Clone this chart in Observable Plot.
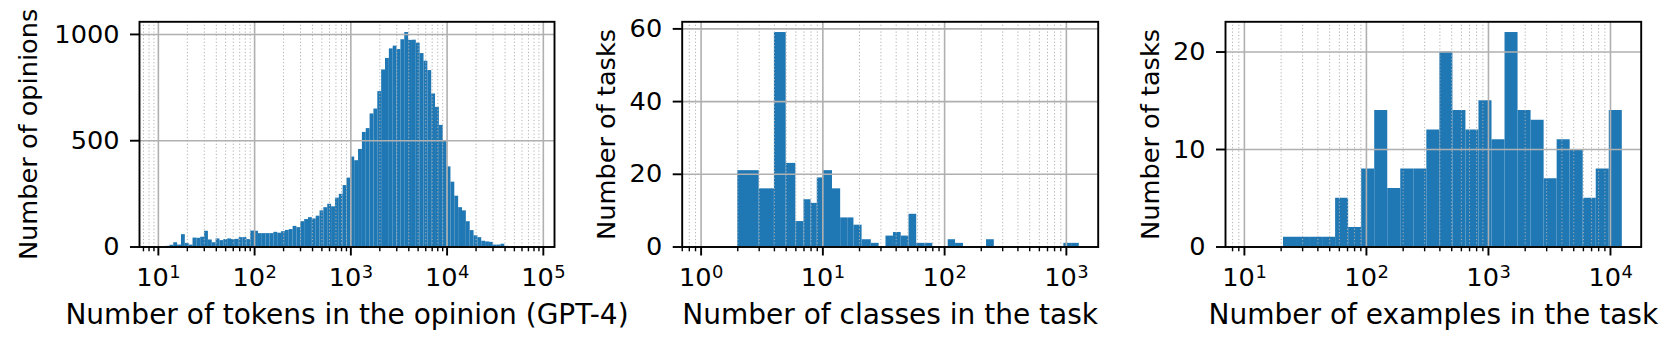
<!DOCTYPE html>
<html><head><meta charset="utf-8">
<script src="https://cdn.jsdelivr.net/npm/d3@7"></script>
<script src="https://cdn.jsdelivr.net/npm/@observablehq/plot@0.6"></script>
<style>
html,body{margin:0;padding:0;background:#fff;}
#chart{position:relative;width:1659px;height:350px;overflow:hidden;background:#fff;}
#chart svg{position:absolute;left:0;top:0;}
</style></head><body><div id="chart"></div>
<script>
// ---------- Panel 1: tokens per opinion (log bins, 25 per decade from 10) ----------
const tokenBinStart = 10;
const tokenBinsPerDecade = 25;
const tokenCounts = [0,1,3,8,20,9,58,17,9,42,41,46,74,33,20,38,30,35,38,35,36,44,44,35,75,
  74,63,63,63,63,69,65,72,78,82,97,91,119,129,138,132,145,170,185,201,189,230,248,289,324,
  423,406,459,539,557,626,649,731,833,887,932,945,929,975,1009,972,973,959,910,874,830,720,657,572,500,
  377,305,239,185,170,119,77,53,44,27,24,22,9,9,13,3,2,1,1,0,1,0,0];
const tokenYTicks = [0,500,1000];
const tokenXTicks = [10,100,1000,10000,100000];

// ---------- Panel 2: classes per task ----------
const classEdges = [1,2,3,4,5,6,7,8,9,10,12,14,16,18,21,25,29,33,38,44,51,59,69,80,92,107,123,143,165,191,221,256,297,343,397,460,532,616,712,824,954,1104,1277];
const classCounts = [0,21,16,59,23,7,13,12,19,21,16,8,8,6,2,1,0,3,4,3,9,1,1,0,0,2,1,0,0,0,2,0,0,0,0,0,0,0,0,0,1,1];
const classYTicks = [0,20,40,60];
const classXTicks = [1,10,100,1000];

// ---------- Panel 3: examples per task (29 log bins from 10 to 12500) ----------
const exampleBinLo = 10, exampleBinHi = 12500;
const exampleCounts = [0,0,0,1,1,1,1,5,2,8,14,6,8,8,12,20,14,12,15,11,22,14,13,7,11,10,5,8,14];
const exampleYTicks = [0,10,20];
const exampleXTicks = [10,100,1000,10000];

const labels = {
  tokensX: "Number of tokens in the opinion (GPT-4)", tokensY: "Number of opinions",
  classesX: "Number of classes in the task", tasksY: "Number of tasks",
  examplesX: "Number of examples in the task"
};

// bin edges
const tokenEdges = d3.range(tokenCounts.length + 1).map(k => tokenBinStart * 10 ** (k / tokenBinsPerDecade));
const exampleEdges = d3.range(exampleCounts.length + 1).map(k =>
  exampleBinLo * (exampleBinHi / exampleBinLo) ** (k / exampleCounts.length));

const W = 1659, H = 350, TOP = 21.3, BOTTOM = 246.5;
const FONT = "DejaVu Sans", FS = 25.6, FSUP = 17.9, FSX = 28;
const BLUE = "#1f77b4", GRID = "#b0b0b0";

function panel({edges, counts, yTicks, xTicks, xLabel, yLabel, left, right, yLabelDx}) {
  const bins = counts.map((c, i) => ({x1: edges[i], x2: edges[i + 1], y: c}));
  const lo = Math.log10(edges[0]), hi = Math.log10(edges[edges.length - 1]), pad = 0.05 * (hi - lo);
  const dom = [10 ** (lo - pad), 10 ** (hi + pad)];
  const yMax = 1.05 * d3.max(counts);
  const minors = [];
  for (const t of [xTicks[0] / 10, ...xTicks]) for (let m = 2; m <= 9; m++) {
    const v = t * m; if (v >= dom[0] && v <= dom[1]) minors.push(v);
  }
  const majors = xTicks.filter(v => v >= dom[0] && v <= dom[1] * 1.0001);
  return Plot.plot({
    width: W, height: H,
    marginLeft: left, marginRight: W - right, marginTop: TOP, marginBottom: H - BOTTOM,
    style: {background: "transparent", overflow: "visible", fontFamily: FONT, color: "black"},
    x: {type: "log", domain: dom},
    y: {domain: [0, yMax]},
    marks: [
      Plot.rectY(bins, {x1: "x1", x2: "x2", y1: 0, y2: "y", fill: BLUE, insetLeft: 0, insetRight: 0}),
      Plot.gridX(minors, {stroke: GRID, strokeOpacity: 1, strokeWidth: 1, strokeDasharray: "1.2,2.2"}),
      Plot.gridX(majors, {stroke: GRID, strokeOpacity: 1, strokeWidth: 1.6}),
      Plot.gridY(yTicks, {stroke: GRID, strokeOpacity: 1, strokeWidth: 1.6}),
      Plot.frame({stroke: "black", strokeWidth: 1.9}),
      Plot.axisX(majors, {tickSize: 9, tickFormat: () => "", strokeWidth: 1.9, label: null}),
      Plot.axisX(minors, {tickSize: 4.8, tickFormat: () => "", strokeWidth: 1.4, label: null}),
      Plot.axisY(yTicks, {tickSize: 9, tickPadding: 11, fontSize: FS, strokeWidth: 1.9, label: null,
        tickFormat: d => String(d)}),
      Plot.text(majors, {x: d => d, frameAnchor: "bottom", dy: 38.5, lineAnchor: "bottom",
        textAnchor: "end", dx: 10.5, text: () => "10", fontSize: FS}),
      Plot.text(majors, {x: d => d, frameAnchor: "bottom", dy: 30.8, lineAnchor: "bottom",
        textAnchor: "start", dx: 11, text: d => String(Math.round(Math.log10(d))), fontSize: FSUP}),
      Plot.text([xLabel], {frameAnchor: "bottom", dy: 77, lineAnchor: "bottom", textAnchor: "middle",
        fontSize: FSX, text: d => d}),
      Plot.text([yLabel], {frameAnchor: "left", rotate: -90, dx: -yLabelDx, lineAnchor: "bottom",
        textAnchor: "middle", fontSize: FS, text: d => d})
    ]
  });
}

const chart = document.getElementById("chart");
chart.append(panel({edges: tokenEdges, counts: tokenCounts, yTicks: tokenYTicks, xTicks: tokenXTicks,
  xLabel: labels.tokensX, yLabel: labels.tokensY, left: 139, right: 554, yLabelDx: 103}));
chart.append(panel({edges: classEdges, counts: classCounts, yTicks: classYTicks, xTicks: classXTicks,
  xLabel: labels.classesX, yLabel: labels.tasksY, left: 681.7, right: 1097.7, yLabelDx: 67}));
chart.append(panel({edges: exampleEdges, counts: exampleCounts, yTicks: exampleYTicks, xTicks: exampleXTicks,
  xLabel: labels.examplesX, yLabel: labels.tasksY, left: 1225, right: 1640.7, yLabelDx: 67}));
</script></body></html>
